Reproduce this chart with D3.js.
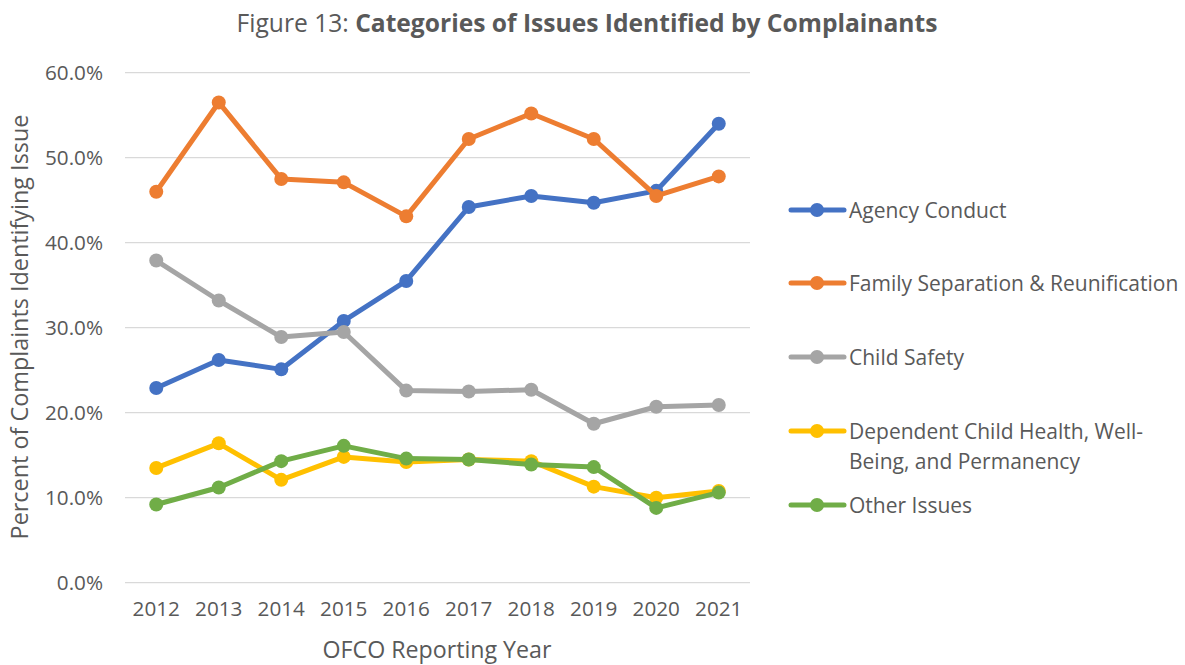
<!DOCTYPE html>
<html>
<head>
<meta charset="utf-8">
<script src="https://cdn.jsdelivr.net/npm/d3@7"></script>
<style>
  body { margin: 0; background: #fff; }
  svg { display: block; font-family: "Open Sans", sans-serif; }
</style>
</head>
<body>
<svg id="chart" width="1185" height="665"></svg>
<script>
const years = ["2012","2013","2014","2015","2016","2017","2018","2019","2020","2021"];
const yTicks = [0, 0.1, 0.2, 0.3, 0.4, 0.5, 0.6];
const seriesNames = [
  "Agency Conduct",
  "Family Separation & Reunification",
  "Child Safety",
  "Dependent Child Health, Well-Being, and Permanency",
  "Other Issues"
];
const agencyConduct  = [0.229, 0.262, 0.251, 0.308, 0.355, 0.442, 0.455, 0.447, 0.461, 0.540];
const familySep      = [0.460, 0.565, 0.475, 0.471, 0.431, 0.522, 0.552, 0.522, 0.455, 0.478];
const childSafety    = [0.379, 0.332, 0.289, 0.295, 0.226, 0.225, 0.227, 0.187, 0.207, 0.209];
const dependentChild = [0.135, 0.164, 0.121, 0.148, 0.142, 0.145, 0.143, 0.113, 0.100, 0.108];
const otherIssues    = [0.092, 0.112, 0.143, 0.161, 0.146, 0.145, 0.139, 0.136, 0.088, 0.106];
const colors = ["#4472C4", "#ED7D31", "#A5A5A5", "#FFC000", "#70AD47"];

const seriesData = [agencyConduct, familySep, childSafety, dependentChild, otherIssues];

const svg = d3.select("#chart");
const textColor = "#595959";
const plot = { left: 125, right: 750, top: 72.7, bottom: 582.7 };

const x = d3.scaleBand().domain(years).range([plot.left, plot.right]);
const y = d3.scaleLinear().domain([0, 0.6]).range([plot.bottom, plot.top]);

// Gridlines
svg.append("g")
  .selectAll("line")
  .data(yTicks)
  .join("line")
  .attr("x1", plot.left).attr("x2", plot.right)
  .attr("y1", d => y(d)).attr("y2", d => y(d))
  .attr("stroke", "#D9D9D9").attr("stroke-width", 1.3);

// Y axis labels
const yAxis = d3.axisLeft(y).tickValues(yTicks).tickFormat(d3.format(".1%")).tickSize(0).tickPadding(22);
const gy = svg.append("g").attr("transform", `translate(${plot.left},0)`).call(yAxis);
gy.select(".domain").remove();
gy.selectAll("text").attr("fill", textColor).style("font-size", "20.7px").style("font-family", "'Open Sans', sans-serif");

// X axis labels
const xAxis = d3.axisBottom(x).tickSize(0).tickPadding(19);
const gx = svg.append("g").attr("transform", `translate(0,${plot.bottom})`).call(xAxis);
gx.select(".domain").remove();
gx.selectAll("text").attr("fill", textColor).style("font-size", "20.7px").style("font-family", "'Open Sans', sans-serif");

// Lines and markers
const line = d3.line().x((d, i) => x(years[i]) + x.bandwidth() / 2).y(d => y(d));
seriesData.forEach((vals, si) => {
  const g = svg.append("g");
  g.append("path").datum(vals)
    .attr("d", line)
    .attr("fill", "none")
    .attr("stroke", colors[si])
    .attr("stroke-width", 5)
    .attr("stroke-linejoin", "round")
    .attr("stroke-linecap", "round");
  g.selectAll("circle").data(vals).join("circle")
    .attr("cx", (d, i) => x(years[i]) + x.bandwidth() / 2)
    .attr("cy", d => y(d))
    .attr("r", 7)
    .attr("fill", colors[si]);
});

// Title
const title = svg.append("text")
  .attr("x", 587).attr("y", 32)
  .attr("text-anchor", "middle")
  .attr("fill", textColor)
  .style("font-size", "24.6px");
title.append("tspan").text("Figure 13: ");
title.append("tspan").attr("font-weight", "bold").text("Categories of Issues Identified by Complainants");

// Axis titles
svg.append("text")
  .attr("x", 437).attr("y", 658)
  .attr("text-anchor", "middle")
  .attr("fill", textColor)
  .style("font-size", "23.2px")
  .text("OFCO Reporting Year");

svg.append("text")
  .attr("transform", "translate(28,327) rotate(-90)")
  .attr("text-anchor", "middle")
  .attr("fill", textColor)
  .style("font-size", "23.4px")
  .text("Percent of Complaints Identifying Issue");

// Legend
const legendItems = [
  { lines: ["Agency Conduct"], y: 210 },
  { lines: ["Family Separation & Reunification"], y: 283 },
  { lines: ["Child Safety"], y: 357 },
  { lines: ["Dependent Child Health, Well-", "Being, and Permanency"], y: 431 },
  { lines: ["Other Issues"], y: 505 }
];
const lg = svg.append("g");
legendItems.forEach((it, i) => {
  lg.append("line")
    .attr("x1", 791).attr("x2", 844)
    .attr("y1", it.y).attr("y2", it.y)
    .attr("stroke", colors[i]).attr("stroke-width", 5).attr("stroke-linecap", "round");
  lg.append("circle").attr("cx", 817).attr("cy", it.y).attr("r", 7).attr("fill", colors[i]);
  const t = lg.append("text")
    .attr("x", 849).attr("y", it.y + 7.5)
    .attr("fill", textColor)
    .style("font-size", "21px");
  it.lines.forEach((ln, j) => {
    t.append("tspan").attr("x", 849).attr("dy", j === 0 ? 0 : 30).text(ln);
  });
});
</script>
</body>
</html>
